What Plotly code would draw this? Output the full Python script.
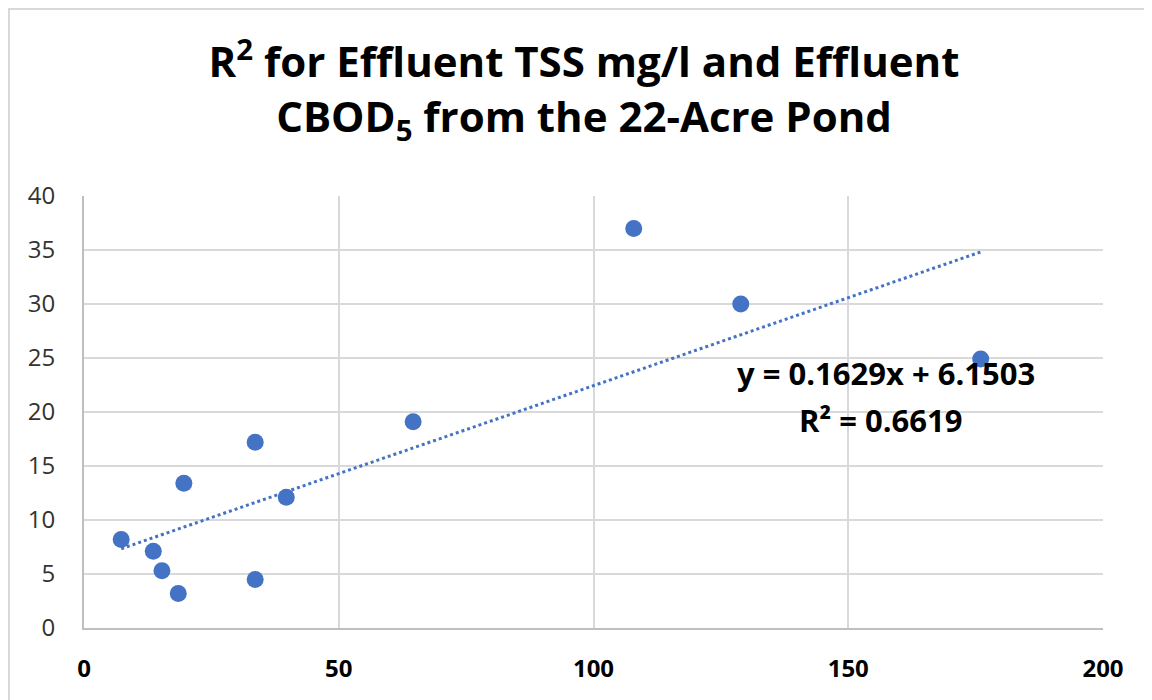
import plotly.graph_objects as go

# Data
tss = [7.3, 13.6, 15.3, 18.5, 19.6, 33.6, 33.6, 39.7, 64.6, 107.9, 128.9, 176.0]
cbod = [8.2, 7.1, 5.3, 3.2, 13.4, 17.2, 4.5, 12.1, 19.1, 37.0, 30.0, 24.9]
slope = 0.1629
intercept = 6.1503
r2 = 0.6619
x_ticks = [0, 50, 100, 150, 200]
y_ticks = [0, 5, 10, 15, 20, 25, 30, 35, 40]

blue = "#4472C4"
font = "Open Sans"

tx = [min(tss), max(tss)]
ty = [slope * v + intercept for v in tx]

fig = go.Figure()
fig.add_trace(go.Scatter(x=tx, y=ty, mode="lines",
                         line=dict(color=blue, width=3, dash="dot"),
                         hoverinfo="skip", showlegend=False))
fig.add_trace(go.Scatter(x=tss, y=cbod, mode="markers",
                         marker=dict(color=blue, size=17),
                         showlegend=False))

fig.add_annotation(x=157.4, y=23.6, xref="x", yref="y",
                   text=f"<b>y = {slope}x + {intercept}</b>",
                   showarrow=False, font=dict(family=font, size=31, color="#000000"))
fig.add_annotation(x=156.4, y=19.3, xref="x", yref="y",
                   text=f"<b>R² = {r2}</b>",
                   showarrow=False, font=dict(family=font, size=31, color="#000000"))

# outer chart border
fig.add_shape(type="rect", xref="paper", yref="paper",
              x0=-0.0736, x1=1.2, y0=-0.3, y1=1.4329,
              line=dict(color="#d9d9d9", width=2), layer="below")

fig.update_layout(
    width=1152, height=700,
    margin=dict(l=76, r=57, t=188, b=80),
    paper_bgcolor="white", plot_bgcolor="white",
    title=dict(text="<b>R<sup>2</sup> for Effluent TSS mg/l and Effluent<br>CBOD<sub>5</sub> from the 22-Acre Pond</b>",
               x=0.5, xanchor="center", y=0.901, yanchor="middle",
               font=dict(family=font, size=42, color="#000000")),
    font=dict(family=font),
)

fig.update_xaxes(range=[0, 200], tickvals=x_ticks,
                 ticktext=[f"<b>{v}</b>" for v in x_ticks],
                 showgrid=True, gridcolor="#d9d9d9", gridwidth=2,
                 showline=True, linecolor="#bfbfbf", linewidth=2,
                 zeroline=False, ticks="", ticklabelstandoff=18,
                 tickfont=dict(family=font, size=24, color="#000000"))
fig.update_yaxes(range=[0, 40], tickvals=y_ticks,
                 showgrid=True, gridcolor="#d9d9d9", gridwidth=2,
                 showline=True, linecolor="#bfbfbf", linewidth=2,
                 zeroline=False, ticks="", ticklabelstandoff=22,
                 tickfont=dict(family=font, size=24, color="#333333"))

fig.write_html("out.html")
